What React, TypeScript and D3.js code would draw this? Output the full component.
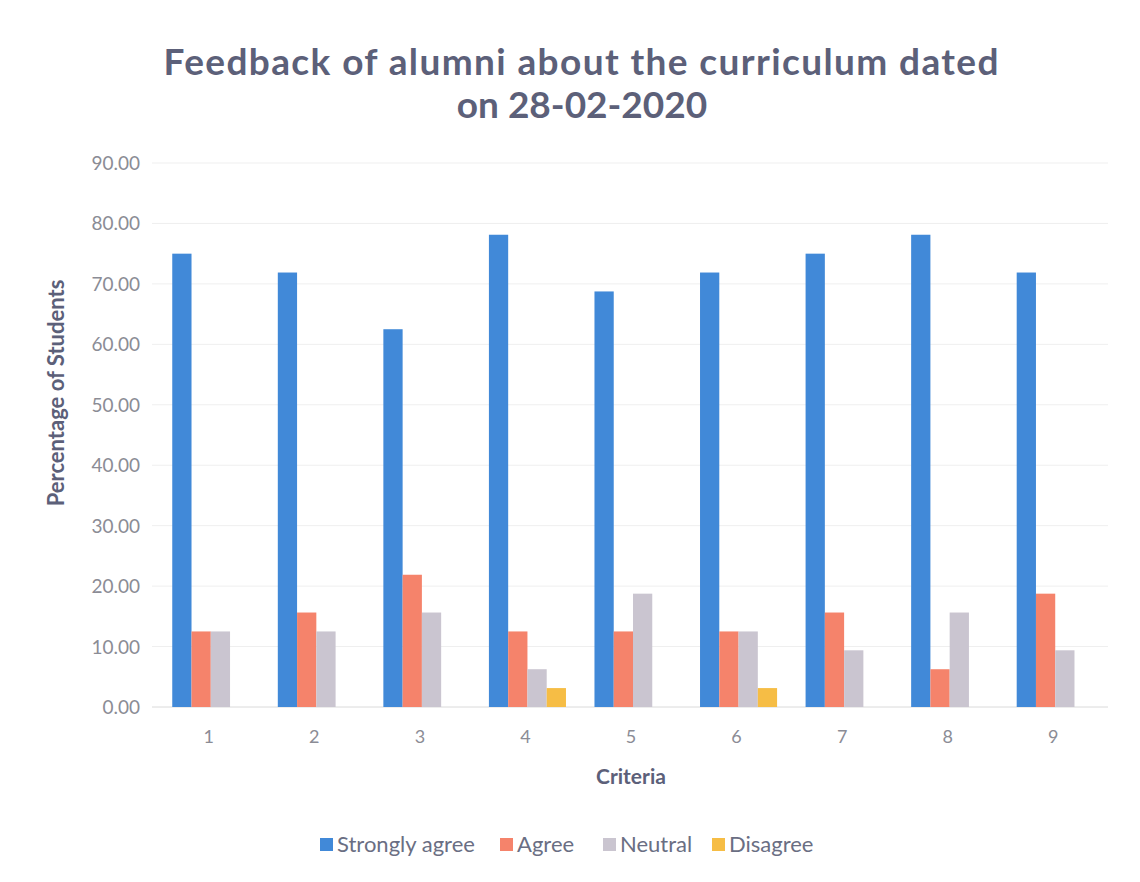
import * as d3 from 'd3';

const categories = ['1', '2', '3', '4', '5', '6', '7', '8', '9'];
const seriesNames = ['Strongly agree', 'Agree', 'Neutral', 'Disagree'];
const stronglyAgree = [75.0, 71.88, 62.5, 78.13, 68.75, 71.88, 75.0, 78.13, 71.88];
const agree = [12.5, 15.63, 21.88, 12.5, 12.5, 12.5, 15.63, 6.25, 18.75];
const neutral = [12.5, 12.5, 15.63, 6.25, 18.75, 12.5, 9.38, 15.63, 9.38];
const disagree = [0, 0, 0, 3.13, 0, 3.13, 0, 0, 0];
const yTicks = [0, 10, 20, 30, 40, 50, 60, 70, 80, 90];
const colors = ['#4189d8', '#f5836b', '#cac5d0', '#f6bd45'];

// svg sits inside the 8px body margin, so coordinates are page - 8
const W = 1124;
const H = 866;
const FONT = 'Lato, "Open Sans", sans-serif';
const TITLE_COLOR = '#5c6079';
const TICK_COLOR = '#8b8c95';

export default function App() {
  const margin = { top: 155, left: 150 };
  const innerW = 950;
  const innerH = 699 - margin.top;

  const series = [stronglyAgree, agree, neutral, disagree];

  const x0 = d3
    .scaleBand<string>()
    .domain(categories)
    .range([0, innerW])
    .paddingInner(0.27)
    .paddingOuter(0.135);
  const x1 = d3.scaleBand<number>().domain(d3.range(series.length)).range([0, x0.bandwidth()]);
  const y = d3.scaleLinear().domain([0, 90]).range([innerH, 0]);

  // legend: x of each swatch (page - 8)
  const legendX = [312, 492, 595, 704];

  return (
    <svg width={W} height={H} style={{ display: 'block', background: '#fff' }} fontFamily={FONT}>
      <text
        x={573}
        y={67}
        textAnchor="middle"
        fontSize={37}
        fontWeight={700}
        fill={TITLE_COLOR}
        textLength={835}
        lengthAdjust="spacing"
      >
        Feedback of alumni about the curriculum dated
      </text>
      <text x={574} y={110} textAnchor="middle" fontSize={37} fontWeight={700} fill={TITLE_COLOR}>
        on 28-02-2020
      </text>

      <g transform={`translate(${margin.left},${margin.top})`}>
        {/* gridlines + y labels */}
        {yTicks.map((t) => (
          <g key={t} transform={`translate(0,${y(t)})`}>
            <line x1={-6} x2={innerW} stroke={t === 0 ? '#dadada' : '#efefef'} strokeWidth={1} />
            <text x={-18} y={7} fontSize={19} textAnchor="end" fill={TICK_COLOR}>
              {t.toFixed(2)}
            </text>
          </g>
        ))}

        {/* bars */}
        {categories.map((c, ci) => (
          <g key={c} transform={`translate(${x0(c)},0)`}>
            {series.map((vals, si) =>
              vals[ci] > 0 ? (
                <rect
                  key={si}
                  x={x1(si)}
                  y={y(vals[ci])}
                  width={x1.bandwidth()}
                  height={innerH - y(vals[ci])}
                  fill={colors[si]}
                />
              ) : null
            )}
            <text
              x={x0.bandwidth() / 2 - 2}
              y={innerH + 36}
              fontSize={18}
              textAnchor="middle"
              fill={TICK_COLOR}
            >
              {c}
            </text>
          </g>
        ))}

        {/* axis titles */}
        <text
          x={innerW / 2 - 2}
          y={innerH + 77}
          fontSize={21}
          fontWeight={700}
          textAnchor="middle"
          fill={TITLE_COLOR}
        >
          Criteria
        </text>
        <text
          transform={`translate(${-94},${230}) rotate(-90)`}
          fontSize={22}
          fontWeight={700}
          textAnchor="middle"
          fill={TITLE_COLOR}
        >
          Percentage of Students
        </text>
      </g>

      {/* legend */}
      {seriesNames.map((name, i) => (
        <g key={name} transform={`translate(${legendX[i]},844)`}>
          <rect x={0} y={-14} width={13} height={13} fill={colors[i]} />
          <text x={17} y={0} fontSize={22} fill="#6a6e83">
            {name}
          </text>
        </g>
      ))}
    </svg>
  );
}
